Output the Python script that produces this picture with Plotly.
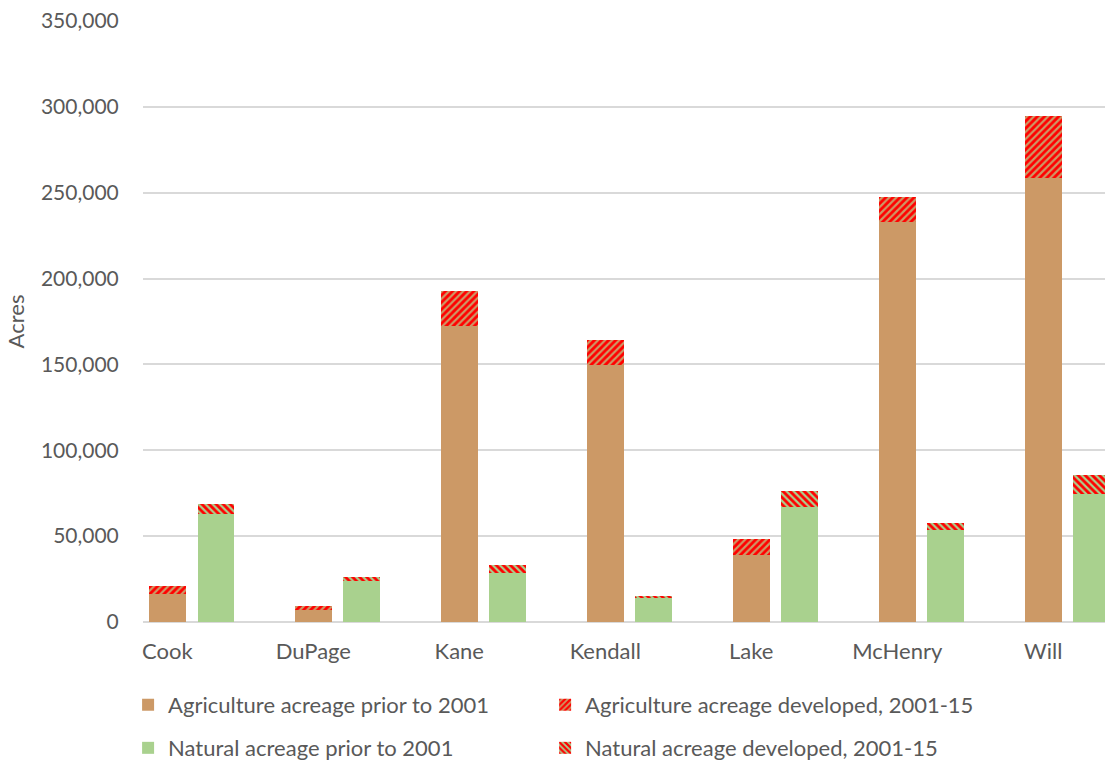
import plotly.graph_objects as go

# Acreage by county (acres)
counties = ["Cook", "DuPage", "Kane", "Kendall", "Lake", "McHenry", "Will"]
ag_prior = [16100, 7000, 172500, 149600, 39000, 232800, 258600]
ag_developed = [4800, 2300, 20200, 14900, 9300, 14600, 35900]
nat_prior = [62700, 24000, 28500, 14000, 67100, 53400, 74500]
nat_developed = [5800, 2400, 4700, 1100, 9200, 4200, 11100]

y_ticks = [0, 50000, 100000, 150000, 200000, 250000, 300000, 350000]

TAN = "#CC9966"
GREEN = "#A9D18E"
RED = "#FF0000"
TEXT = "#595959"
GRID = "#D9D9D9"
FONT = "Lato"
FS_TICK = 21
FS_TEXT = 22

# each county occupies three slots: agriculture bar, natural bar, empty gap
SLOT = 3
ag_x = [i * SLOT for i in range(len(counties))]
nat_x = [i * SLOT + 1 for i in range(len(counties))]
BAR_W = 0.76

fig = go.Figure()
fig.add_bar(
    x=ag_x, y=ag_prior, width=BAR_W,
    name="Agriculture acreage prior to 2001",
    marker=dict(color=TAN, line=dict(width=0)),
    legend="legend",
)
fig.add_bar(
    x=ag_x, y=ag_developed, width=BAR_W,
    name="Agriculture acreage developed, 2001-15",
    marker=dict(color=TAN, line=dict(width=0),
                pattern=dict(shape="/", fgcolor=RED, bgcolor=TAN,
                             size=5, solidity=0.55, fillmode="replace")),
    legend="legend2",
)
fig.add_bar(
    x=nat_x, y=nat_prior, width=BAR_W,
    name="Natural acreage prior to 2001",
    marker=dict(color=GREEN, line=dict(width=0)),
    legend="legend3",
)
fig.add_bar(
    x=nat_x, y=nat_developed, width=BAR_W,
    name="Natural acreage developed, 2001-15",
    marker=dict(color=GREEN, line=dict(width=0),
                pattern=dict(shape="\\", fgcolor=RED, bgcolor=GREEN,
                             size=5, solidity=0.55, fillmode="replace")),
    legend="legend4",
)

# 2 x 2 legend grid below the plot, one legend box per entry
legend_common = dict(
    orientation="h",
    xanchor="left",
    yanchor="middle",
    font=dict(family=FONT, size=FS_TEXT, color=TEXT),
    bgcolor="rgba(0,0,0,0)",
)
COL1_X, COL2_X = -0.0155, 0.418
ROW1_Y, ROW2_Y = -0.138, -0.2097

fig.update_layout(
    width=1105,
    height=765,
    margin=dict(l=143, r=0, t=21, b=143, autoexpand=False),
    paper_bgcolor="white",
    plot_bgcolor="white",
    barmode="stack",
    font=dict(family=FONT, size=FS_TEXT, color=TEXT),
    showlegend=True,
    legend=dict(legend_common, x=COL1_X, y=ROW1_Y),
    legend2=dict(legend_common, x=COL2_X, y=ROW1_Y),
    legend3=dict(legend_common, x=COL1_X, y=ROW2_Y),
    legend4=dict(legend_common, x=COL2_X, y=ROW2_Y),
    xaxis=dict(
        range=[-0.5, 19.27],
        tickmode="array",
        tickvals=ag_x,
        ticktext=counties,
        showgrid=False,
        zeroline=False,
        showline=False,
        ticks="outside",
        ticklen=10,
        tickcolor="rgba(0,0,0,0)",
        tickfont=dict(family=FONT, size=FS_TEXT, color=TEXT),
    ),
    yaxis=dict(
        range=[0, 350000],
        tickmode="array",
        tickvals=y_ticks,
        tickformat=",",
        showgrid=True,
        gridcolor=GRID,
        gridwidth=1.5,
        zeroline=True,
        zerolinecolor=GRID,
        zerolinewidth=1.5,
        showline=False,
        ticks="outside",
        ticklen=19,
        tickcolor="rgba(0,0,0,0)",
        tickfont=dict(family=FONT, size=FS_TICK, color=TEXT),
        title=dict(text="Acres", font=dict(family=FONT, size=FS_TEXT, color=TEXT), standoff=10),
    ),
)

fig.write_html("out.html")
